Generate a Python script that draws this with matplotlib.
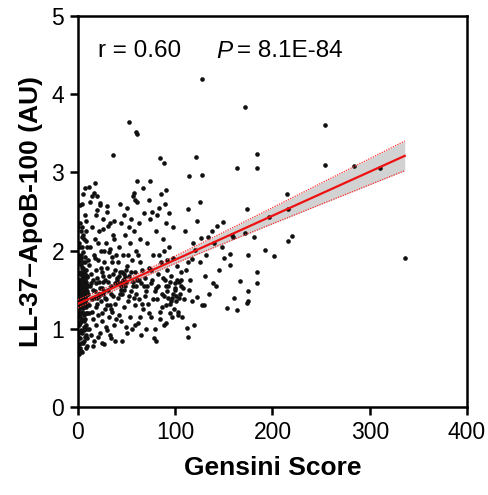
import numpy as np
import matplotlib
matplotlib.use("Agg")
import matplotlib.pyplot as plt

plt.rcParams['font.family'] = ['Liberation Sans', 'DejaVu Sans']

# ---- data ----
group_a = [(0.5,1.52),(0.8,1.38),(1.0,1.71),(1.2,1.25),(1.5,1.60),(1.8,1.45),(2.0,1.88),(2.2,1.15),(2.5,1.33),(2.8,1.95),
           (3.0,1.48),(3.2,0.72),(3.5,1.62),(3.8,1.22),(4.0,2.05),(4.2,1.40),(4.5,0.95),(4.8,1.55),(5.0,1.78),(5.2,1.30),
           (5.5,2.20),(5.8,1.10),(6.0,1.65),(6.2,1.42),(6.5,0.85),(6.8,1.92),(7.0,1.35),(7.2,2.45),(7.5,1.58),(7.8,1.05),
           (8.0,1.75),(8.2,1.28),(8.5,2.12),(8.8,1.48),(9.0,0.78),(9.2,1.68),(9.5,1.20),(9.8,1.88),(1.3,1.05),(2.4,0.88),
           (0.6,2.10),(1.7,2.35),(3.3,1.82),(4.6,1.12),(5.6,1.50),(6.6,1.18),(7.6,1.85),(8.6,0.92),(9.6,1.55),(0.9,1.62),
           (2.1,1.40),(3.6,1.55),(4.1,1.68),(5.1,1.43),(6.1,1.55),(7.1,1.62),(8.1,1.38),(9.1,1.45),(1.4,1.50),(2.6,1.72),
           (3.9,1.35),(4.9,1.26),(5.9,1.72),(6.9,1.48),(7.9,1.20),(8.9,1.66),(0.4,1.30),(0.7,0.68),(1.1,0.80),(2.3,0.75),
           (3.1,0.98),(4.4,0.70),(5.4,0.82),(6.4,1.02),(7.4,0.90),(8.4,0.75),(9.4,1.00),(0.3,1.95),(1.6,2.58),(2.7,2.25),
           (3.7,2.60),(4.3,2.30),(5.3,2.72),(6.3,2.15),(7.3,2.80),(8.3,2.38),(9.3,2.05),(2.9,1.58),(4.7,1.85),(6.7,1.30),
           (8.7,1.52),(0.2,1.45),(1.9,1.20),(3.4,1.10),(5.7,0.98),(7.7,1.42),(9.7,1.32)]
group_b = [(10.5,1.45),(11,1.82),(11.5,1.20),(12,2.05),(12.5,1.55),(13,0.92),(13.5,1.70),(14,1.38),(14.5,2.30),(15,1.12),
           (15.5,1.62),(16,1.95),(16.5,0.85),(17,1.48),(17.5,2.15),(18,1.28),(18.5,1.75),(19,1.05),(19.5,2.52),(20,1.40),
           (20.5,1.88),(21,1.18),(21.5,1.60),(22,2.25),(22.5,0.95),(23,1.52),(23.5,1.35),(24,2.00),(24.5,1.72),(25,1.10),
           (25.5,2.40),(26,1.45),(26.5,0.80),(27,1.85),(27.5,1.25),(28,1.62),(28.5,2.10),(29,1.38),(29.5,0.98),(30,1.78),
           (30.5,1.50),(31,2.32),(31.5,1.15),(32,1.68),(32.5,1.30),(33,2.02),(33.5,0.88),(34,1.55),(34.5,1.92),(35,1.22),
           (35.5,2.20),(36,1.42),(36.5,1.70),(37,1.05),(37.5,2.38),(38,1.58),(38.5,1.32),(39,1.95),(39.5,1.12),(12.2,2.62),
           (14.8,2.70),(18.2,2.45),(22.8,2.58),(26.2,2.28),(29.8,2.50),(33.2,2.35),(36.8,2.15),(11.8,1.00),(15.8,0.78),(20.2,0.90),
           (24.8,0.82),(28.8,1.02),(32.8,0.92),(37.8,0.85),(13.2,1.58),(16.2,1.40),(19.2,1.65),(21.2,1.42),(23.2,1.78),(25.2,1.60),
           (27.2,1.48),(30.2,1.30),(34.2,1.45),(38.2,1.75),(10.8,1.30),(17.2,1.90),(26.8,2.00),(35.2,1.85),(39.8,1.60),(31.8,1.98),
           (20.8,2.10),(14.2,1.22),(24.2,1.20),(33.8,1.25)]
group_c = [(40.5,1.65),(41,1.40),(42,2.05),(42.5,1.18),(43,1.72),(44,2.35),(44.5,1.50),(45,0.85),(46,1.62),(46.5,1.95),
           (47,1.28),(48,2.20),(48.5,1.55),(49,1.02),(50,1.80),(50.5,2.55),(51,1.35),(52,1.68),(53,2.10),(53.5,1.15),
           (54,1.48),(55,2.40),(55.5,1.88),(56,1.00),(57,1.60),(58,2.25),(58.5,1.30),(59,1.72),(60,1.45),(61,2.62),
           (61.5,1.08),(62,1.95),(63,1.38),(64,2.15),(64.5,1.58),(65,0.92),(66,1.75),(67,1.25),(68,2.48),(68.5,1.65),
           (69,1.42),(43.5,2.60),(47.5,2.45),(52.5,2.30),(56.5,2.70),(62.5,2.35),(66.5,2.80),(41.5,1.85),(45.5,1.45),(49.5,1.60),
           (51.5,1.95),(54.5,1.72),(57.5,1.40),(59.5,2.00),(63.5,1.85),(67.5,1.55),(44.2,1.10),(50.2,0.95),(58.2,1.05),(64.2,1.15),
           (69.5,1.00),(42.8,1.58),(46.8,1.70),(52.8,1.42),(56.8,1.55),(60.8,1.62),(65.8,1.32)]
group_d = [(70.5,1.55),(71,2.10),(72,1.32),(73,1.78),(74,2.40),(75,1.15),(76,1.62),(77,1.95),(78,0.88),(79,1.48),
           (80,2.25),(81,1.38),(82,1.70),(83,2.55),(84,1.22),(85,1.85),(86,1.45),(87,2.15),(88,1.05),(89,1.62),
           (90,2.35),(91,1.30),(92,1.75),(93,1.55),(94,2.05),(95,1.20),(96,1.68),(97,1.40),(98,1.90),(99,1.25),
           (100,1.58),(101,1.35),(102,1.80),(103,1.18),(104,1.60),(105,1.45),(106,1.72),(107,1.15),(108,1.52),(109,1.38),
           (72.5,2.65),(76.5,2.50),(81.5,2.45),(85.5,2.72),(89.5,2.60),(93.5,2.48),(97.5,2.30),(73.5,1.20),(79.5,1.00),(84.5,1.12),
           (90.5,1.08),(96.5,1.15),(102.5,1.22),(75.5,1.75),(82.5,1.55),(87.5,1.65),(92.5,1.40),(99.5,1.50),(105.5,1.62),(80.5,0.85),
           (77.5,1.38),(86.5,1.28),(94.5,1.32),(100.5,1.42),(91.5,1.88),(83.5,1.95),(88.5,2.00)]
group_e = [(127,4.19),(172,3.83),(254,3.60),(52,3.65),(60,3.52),(61,3.49),(36,3.22),(121,3.20),(184,3.24),(184,3.06),
           (164,3.05),(254,3.10),(284,3.08),(310.5,3.05),(336,1.91),(214.6,2.73),(216,2.53),(196.7,2.43),(173.5,2.53),(172,2.23),
           (181,2.18),(220,2.19),(216,2.12),(192,2.01),(202,1.93),(175,1.95),(184,1.72),(184,1.59),(166.6,1.61),(175,1.48),
           (175,1.35),(174,1.33),(164,1.24),(160,1.39),(153,1.27),(159,2.17),(156,1.96),(156,1.81),(142.6,2.31),(149.5,2.36),
           (125.5,2.62),(127,2.97),(114.5,2.96),(113,2.53),(122,2.38),(126,2.16),(134,2.18),(120,2.01),(117,1.89),(130.6,1.67),
           (139,1.59),(122,1.41),(127,1.30),(130,1.30),(112,1.01),(119,1.05),(113,0.90),(114,1.50),(117,1.36),(84,3.19),
           (88,3.12),(74,2.89),(61,2.89),(91,2.77),(57.5,2.74),(59,2.65),(17.5,2.87),(10.8,2.81),(16,2.74),(19.5,2.70),
           (23,2.61),(30,2.57),(111,1.75),(115,1.62),(118,2.10),(125,1.85),(132,1.95),(138,2.25),(145,1.75),(148,2.05),
           (135,1.45),(142,1.55),(150,1.90),(158,2.20),(110,2.25),(113,1.85),(140,2.10)]
group_f = [(0.5,1.42),(1,1.55),(1.5,1.35),(2,1.62),(2.5,1.48),(3,1.70),(3.5,1.40),(4,1.52),(4.5,1.60),(5,1.37),
           (5.5,1.66),(6,1.46),(6.5,1.58),(7,1.50),(7.5,1.33),(8,1.60),(8.5,1.43),(9,1.56),(1.2,1.85),(2.8,1.28),
           (4.2,1.78),(5.8,1.30),(0.8,1.18),(3.2,1.90),(6.8,1.70),(40,1.62),(42,1.68),(44,1.55),(45,1.72),(46,1.60),
           (47,1.50),(48,1.66),(43,1.45),(41,1.58),(49,1.75),(88,1.42),(90,1.55),(92,1.48),(95,1.60),(98,1.45),
           (100,1.52),(102,1.62),(104,1.40),(106,1.55),(96,1.35),(15,1.50),(18,1.58),(22,1.45),(25,1.52),(28,1.40),
           (31,1.60),(20,1.32),(26,1.68),(60,1.55),(63,1.62),(70,1.48),(75,1.58),(80,1.52),(1.5,0.95),(2.5,1.08),
           (0.5,0.90),(3.5,0.82),(5.5,1.20),(7.5,1.12),(9.5,0.88),(0.3,2.30),(1.8,2.05),(3.8,2.18),(5.2,1.98),(8.2,2.25)]

fit_intercept = 1.32
fit_slope = 0.00563
fit_x_range = [0, 336]
ci_halfwidth_at_end = 0.19
r_text = "r = 0.60"
p_text = "= 8.1E-84"
x_ticks = [0, 100, 200, 300, 400]
y_ticks = [0, 1, 2, 3, 4, 5]

pts = np.array(group_a + group_b + group_c + group_d + group_e + group_f)
gx, gy = pts[:, 0], pts[:, 1]

# ---- figure ----
fig = plt.figure(figsize=(4.89, 4.95), dpi=100)
ax = fig.add_axes([78/489, 1-407/495, (467-78)/489, (407-16)/495])

xl = np.linspace(fit_x_range[0], fit_x_range[1], 200)
yl = fit_intercept + fit_slope * xl
n = len(gx)
xbar = gx.mean()
sxx = np.sum((gx - xbar)**2)
shape = np.sqrt(1/n + (xl - xbar)**2 / sxx)
half = ci_halfwidth_at_end * shape / shape[-1]

ax.fill_between(xl, yl - half, yl + half, color='#d2d2d2', lw=0, zorder=1)
ax.plot(xl, yl + half, color='#ff3030', lw=0.9, ls=(0, (1, 1)), zorder=3)
ax.plot(xl, yl - half, color='#ff3030', lw=0.9, ls=(0, (1, 1)), zorder=3)
ax.scatter(gx, gy, s=11, color='#111111', lw=0, zorder=2)
ax.plot(xl, yl, color='#ee1111', lw=1.6, zorder=4)

ax.set_xlim(0, 400)
ax.set_ylim(0, 5)
ax.set_xticks(x_ticks)
ax.set_yticks(y_ticks)
for sp in ax.spines.values():
    sp.set_linewidth(1.8)
ax.tick_params(direction='out', length=6, width=1.8, labelsize=16.5, pad=4)

ax.set_xlabel("Gensini Score", fontsize=19, fontweight='bold', labelpad=9)
ax.set_ylabel("LL-37\u2013ApoB-100 (AU)", fontsize=19, fontweight='bold', labelpad=6)

ax.text(20.6, 4.55, r_text, fontsize=17.5, va='center', ha='left')
ax.text(142, 4.55, "P", fontsize=17.5, style='italic', va='center', ha='left')
ax.text(163, 4.55, p_text, fontsize=17.5, va='center', ha='left')

fig.savefig("out.png", dpi=100)
